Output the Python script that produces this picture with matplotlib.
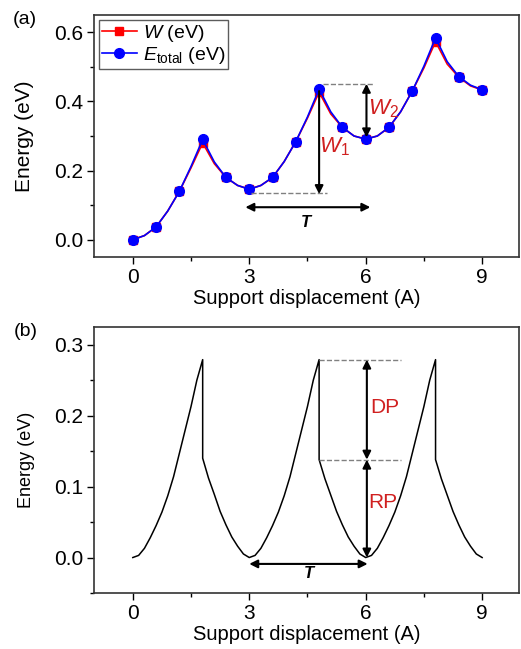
import numpy as np
import matplotlib
matplotlib.use("Agg")
import matplotlib.pyplot as plt
from matplotlib.ticker import MultipleLocator

plt.rcParams["font.family"] = ["Liberation Sans", "DejaVu Sans"]
plt.rcParams["mathtext.fontset"] = "custom"
plt.rcParams["mathtext.rm"] = "Liberation Sans"
plt.rcParams["mathtext.it"] = "Liberation Sans:italic"
plt.rcParams["mathtext.bf"] = "Liberation Sans:bold"

# panel (a): curves sampled every 0.3, markers every 0.6
disp_a = [0.0, 0.3, 0.6, 0.9, 1.2, 1.5, 1.8, 2.1, 2.4, 2.7, 3.0, 3.3, 3.6, 3.9, 4.2, 4.5,
          4.8, 5.1, 5.4, 5.7, 6.0, 6.3, 6.6, 6.9, 7.2, 7.5, 7.8, 8.1, 8.4, 8.7, 9.0]
e_total = [0.0, 0.012, 0.037, 0.083, 0.14, 0.212, 0.29, 0.225, 0.18, 0.157, 0.146, 0.157,
           0.18, 0.226, 0.284, 0.355, 0.436, 0.37, 0.325, 0.30, 0.291, 0.30, 0.325, 0.37,
           0.43, 0.502, 0.584, 0.515, 0.472, 0.447, 0.434]
w_vals = [0.0, 0.012, 0.037, 0.083, 0.14, 0.208, 0.28, 0.22, 0.18, 0.157, 0.146, 0.157,
          0.18, 0.226, 0.284, 0.352, 0.427, 0.364, 0.325, 0.30, 0.291, 0.30, 0.325, 0.37,
          0.43, 0.497, 0.573, 0.508, 0.470, 0.445, 0.433]

# panel (b): energy with drops at 1.8, 4.8, 7.8
disp_b = [0.0, 0.15, 0.3, 0.45, 0.6, 0.75, 0.9, 1.05, 1.2, 1.35, 1.5, 1.65, 1.8,
          1.8, 1.95, 2.1, 2.25, 2.4, 2.55, 2.7, 2.85, 3.0,
          3.15, 3.3, 3.45, 3.6, 3.75, 3.9, 4.05, 4.2, 4.35, 4.5, 4.65, 4.8,
          4.8, 4.95, 5.1, 5.25, 5.4, 5.55, 5.7, 5.85, 6.0,
          6.15, 6.3, 6.45, 6.6, 6.75, 6.9, 7.05, 7.2, 7.35, 7.5, 7.65, 7.8,
          7.8, 7.95, 8.1, 8.25, 8.4, 8.55, 8.7, 8.85, 9.0]
energy_b = [0.0, 0.003, 0.013, 0.028, 0.045, 0.064, 0.087, 0.114, 0.147, 0.18, 0.213, 0.25, 0.279,
            0.140, 0.112, 0.089, 0.065, 0.046, 0.029, 0.016, 0.005, 0.0,
            0.003, 0.013, 0.028, 0.045, 0.064, 0.087, 0.114, 0.147, 0.18, 0.213, 0.25, 0.279,
            0.138, 0.111, 0.088, 0.065, 0.046, 0.029, 0.016, 0.005, 0.0,
            0.003, 0.013, 0.028, 0.045, 0.064, 0.087, 0.114, 0.147, 0.18, 0.213, 0.25, 0.279,
            0.138, 0.111, 0.088, 0.065, 0.046, 0.029, 0.016, 0.005, 0.0]

red_txt = "#d02020"
W, H = 521, 649
fig = plt.figure(figsize=(W / 100, H / 100), dpi=100)
ax1 = fig.add_axes([94 / W, (H - 257) / H, 425 / W, 242 / H])
ax2 = fig.add_axes([94 / W, (H - 593) / H, 425 / W, 266 / H])

def style(ax):
    for s in ax.spines.values():
        s.set_linewidth(1.2)
        s.set_color("#333333")
    ax.tick_params(which="major", direction="out", length=5, width=1.0, labelsize=15, pad=3)
    ax.tick_params(which="minor", direction="out", length=3, width=1.0)
    ax.set_xlim(-1, 9.95)
    ax.xaxis.set_major_locator(MultipleLocator(3))
    ax.xaxis.set_minor_locator(MultipleLocator(1.5))
    ax.set_xlabel("Support displacement (A)", fontsize=14.5, labelpad=1)

# ---- (a)
ax1.plot(disp_a, w_vals, color="red", lw=1.2, marker="s", ms=6, markevery=2,
         label=r"$\mathit{W}$ (eV)")
ax1.plot(disp_a, e_total, color="blue", lw=1.2, marker="o", ms=7, markevery=2,
         label=r"$E_{\mathrm{total}}$ (eV)")
style(ax1)
ax1.set_ylim(-0.05, 0.65)
ax1.yaxis.set_major_locator(MultipleLocator(0.2))
ax1.yaxis.set_minor_locator(MultipleLocator(0.1))
ax1.set_ylabel("Energy (eV)", fontsize=15)
ax1.yaxis.set_label_coords(-0.14, 0.5)
leg = ax1.legend(loc="upper left", fontsize=14, frameon=True, fancybox=False,
                 borderpad=0.15, handlelength=1.8, handletextpad=0.3, labelspacing=0.05,
                 borderaxespad=0.25)
leg.get_frame().set_edgecolor("#333333")
leg.get_frame().set_linewidth(1.0)

ax1.plot([4.9, 6.2], [0.451, 0.451], ls="--", color="#808080", lw=1)
ax1.plot([3.05, 5.0], [0.135, 0.135], ls="--", color="#808080", lw=1)
arr = dict(arrowstyle="-|>", color="black", lw=1.5, mutation_scale=12, shrinkA=0, shrinkB=0)
arr2 = dict(arrowstyle="<|-|>", color="black", lw=1.5, mutation_scale=12, shrinkA=0, shrinkB=0)
ax1.annotate("", xy=(4.8, 0.132), xytext=(4.8, 0.43), arrowprops=arr)
ax1.annotate("", xy=(6.02, 0.296), xytext=(6.02, 0.451), arrowprops=arr2)
ax1.annotate("", xy=(2.9, 0.094), xytext=(6.12, 0.094), arrowprops=arr2)
ax1.text(4.45, 0.05, "T", fontsize=12, fontweight="bold", fontstyle="italic", ha="center", va="center")
ax1.text(5.2, 0.27, r"$\mathit{W}_1$", fontsize=16, color=red_txt, ha="center", va="center")
ax1.text(6.45, 0.38, r"$\mathit{W}_2$", fontsize=16, color=red_txt, ha="center", va="center")

# ---- (b)
ax2.plot(disp_b, energy_b, color="black", lw=1.1)
style(ax2)
ax2.set_ylim(-0.05, 0.325)
ax2.yaxis.set_major_locator(MultipleLocator(0.1))
ax2.yaxis.set_minor_locator(MultipleLocator(0.05))
ax2.set_ylabel("Energy (eV)", fontsize=13)
ax2.yaxis.set_label_coords(-0.138, 0.5)

ax2.plot([4.8, 6.9], [0.279, 0.279], ls="--", color="#808080", lw=1)
ax2.plot([4.8, 6.9], [0.138, 0.138], ls="--", color="#808080", lw=1)
ax2.annotate("", xy=(6.03, 0.279), xytext=(6.03, 0.138), arrowprops=arr2)
ax2.annotate("", xy=(6.03, 0.138), xytext=(6.03, 0.0), arrowprops=arr2)
ax2.annotate("", xy=(3.0, -0.009), xytext=(6.05, -0.009), arrowprops=arr2)
ax2.text(4.53, -0.022, "T", fontsize=12, fontweight="bold", fontstyle="italic", ha="center", va="center")
ax2.text(6.5, 0.211, "DP", fontsize=15, color=red_txt, ha="center", va="center")
ax2.text(6.45, 0.077, "RP", fontsize=15, color=red_txt, ha="center", va="center")

fig.text(25 / W, 1 - 20 / H, "(a)", fontsize=14, ha="center", va="center")
fig.text(26 / W, 1 - 331 / H, "(b)", fontsize=14, ha="center", va="center")

fig.savefig("out.png", dpi=100)
